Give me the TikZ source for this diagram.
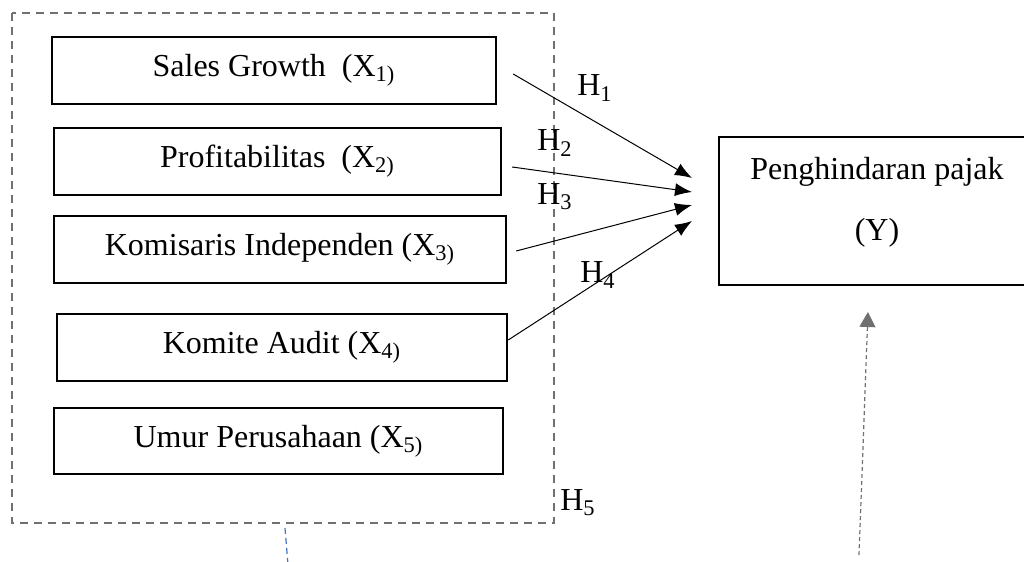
\documentclass[tikz,border=0pt]{standalone}
\usepackage{fontspec}
\setmainfont{Liberation Serif}
\usetikzlibrary{arrows.meta, positioning}
\definecolor{framegray}{RGB}{112,112,112}
\definecolor{lineblue}{RGB}{68,114,196}

\tikzset{
  varbox/.style={draw, line width=1.2pt, minimum width=#1, minimum height=33.5pt,
    inner sep=0pt, font=\fontsize{16}{19}\selectfont},
  hyplabel/.style={font=\fontsize{16}{19}\selectfont},
  hyparrow/.style={-{Latex[length=8.5pt,width=6.5pt]}, line width=0.5pt},
}

\begin{document}
\begin{tikzpicture}[x=0.5pt, y=-0.5pt]
  \clip (0,0) rectangle (1024,562);

  % Independent variables
  \draw[framegray, line width=1pt, dash pattern=on 4pt off 3pt] (12,13) rectangle (554,523);
  \node[varbox=222pt] (sg) at (274,70.5) {Sales Growth\ \ (X\textsubscript{1)}};
  \node[varbox=223.5pt] (prof) at (277.5,161.5) {Profitabilitas\ \ (X\textsubscript{2)}};
  \node[varbox=226pt] (kom) at (280,249.5) {Komisaris Independen (X\textsubscript{3)}};
  \node[varbox=225pt] (audit) at (282,347.5) {Komite Audit (X\textsubscript{4)}};
  \node[varbox=224.5pt, minimum height=33pt] (umur) at (278.5,441) {Umur Perusahaan (X\textsubscript{5)}};

  % Dependent variable
  \node[draw, line width=1.2pt, minimum width=158pt, minimum height=74pt] (pajak) at (877,211) {};
  \node[font=\fontsize{16}{19}\selectfont, align=center] (pajaklbl) at (877,202.5)
    {Penghindaran pajak\\[11.5pt](Y)};

  % Hypotheses
  \coordinate (t1) at (692,178);
  \coordinate (t2) at (692,192);
  \coordinate (t3) at (692,205);
  \coordinate (t4) at (692,221);
  \draw[hyparrow] ([xshift=8pt, yshift=-1.75pt]sg.east) -- (t1);
  \draw[hyparrow] ([xshift=5pt, yshift=-2.75pt]prof.east) -- (t2);
  \draw[hyparrow] ([xshift=4.5pt, yshift=-0.75pt]kom.east) -- (t3);
  \draw[hyparrow] ([yshift=3.75pt]audit.east) -- (t4);
  \node[hyplabel] (h1) at (595,88) {H\textsubscript{1}};
  \node[hyplabel] (h2) at (555,143) {H\textsubscript{2}};
  \node[hyplabel] (h3) at (555,197) {H\textsubscript{3}};
  \node[hyplabel] (h4) at (598,275) {H\textsubscript{4}};
  \node[hyplabel] (h5) at (578,503) {H\textsubscript{5}};

  % Moderation
  \coordinate (mbase) at (859,555);
  \coordinate (mtip) at (868,312);
  \draw[framegray, line width=0.6pt, dash pattern=on 2pt off 1.5pt,
    -{Triangle[length=7.5pt,width=8pt]}] (mbase) -- (mtip);
  \coordinate (bl1) at (285,528);
  \coordinate (bl2) at (288,565);
  \draw[lineblue, line width=0.6pt, dash pattern=on 3pt off 2pt] (bl1) -- (bl2);
\end{tikzpicture}
\end{document}
